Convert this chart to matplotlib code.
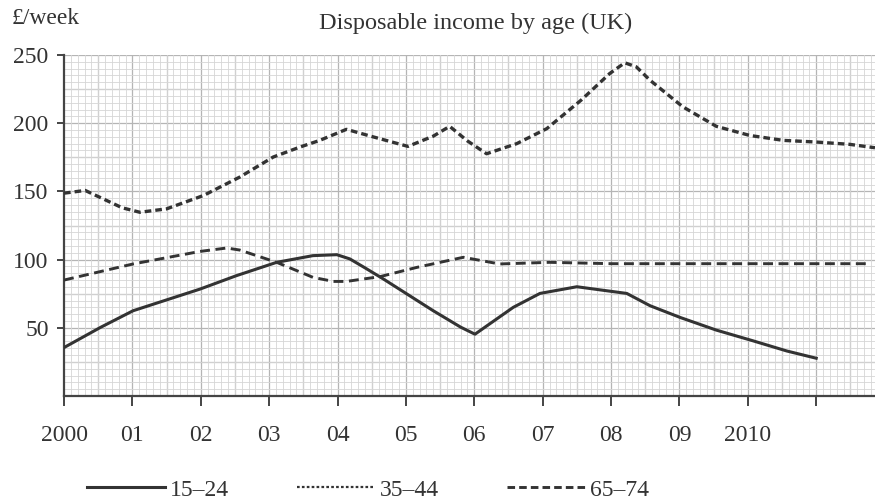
import matplotlib
matplotlib.use("Agg")
import matplotlib.pyplot as plt
from matplotlib.ticker import MultipleLocator
from matplotlib.lines import Line2D
import numpy as np

# values (year, £/week)
yrs_15 = [2000.0, 2000.53, 2001.01, 2001.99, 2002.52, 2003.11, 2003.64, 2003.99, 2004.18,
          2004.4, 2004.67, 2005.40, 2005.8, 2006.01, 2006.2, 2006.57, 2006.96, 2007.5,
          2007.93, 2008.23, 2008.57, 2009.01, 2009.54, 2010.08, 2010.57, 2011.0]
inc_15 = [35.5, 50.2, 62.5, 78.4, 88.2, 98.0, 102.9, 103.6, 100.5,
          94.0, 85.8, 62.5, 50.5, 45.3, 52.0, 65.0, 75.2, 80.1,
          77.2, 75.2, 66.2, 57.6, 48.3, 40.4, 33.0, 27.7]

yrs_35 = [2000.0, 2000.31, 2000.57, 2000.85, 2001.11, 2001.5, 2002.04, 2002.57, 2003.06,
          2003.45, 2003.74, 2004.13, 2004.52, 2005.03, 2005.4, 2005.64, 2005.9, 2006.18,
          2006.62, 2007.06, 2007.56, 2007.98, 2008.2, 2008.37, 2008.57, 2009.05, 2009.54,
          2010.03, 2010.52, 2011.0, 2011.49, 2011.86]
inc_35 = [148.7, 150.7, 144.6, 138.0, 134.7, 137.2, 147.0, 160.5, 175.2,
          182.5, 187.4, 195.5, 190.0, 183.0, 190.5, 197.7, 187.0, 177.6,
          185.0, 196.0, 216.8, 236.4, 244.3, 241.3, 231.5, 212.0, 197.7,
          191.0, 187.4, 186.2, 184.5, 182.0]

yrs_65 = [2000.0, 2001.01, 2001.99, 2002.38, 2002.57, 2003.11, 2003.64, 2003.94, 2004.13,
          2004.62, 2005.16, 2005.84, 2006.37, 2007.1, 2008.0, 2009.0, 2010.0, 2011.0, 2011.75]
inc_65 = [85.0, 96.8, 106.0, 108.5, 107.0, 98.0, 87.0, 84.0, 84.0,
          87.5, 94.3, 101.7, 96.8, 98.0, 97.0, 97.0, 97.0, 97.0, 97.0]

xticks = list(range(2000, 2012))
xlabels = ["2000", "01", "02", "03", "04", "05", "06", "07", "08", "09", "2010", ""]
yticks = [50, 100, 150, 200, 250]

ink = "#333333"
plt.rcParams["font.family"] = ["Liberation Serif", "DejaVu Serif"]

fig = plt.figure(figsize=(8.75, 5.01), dpi=100)
ax = fig.add_axes([64/875, 1 - 396/501, 1 - 64/875, (396 - 55)/501])
ax.set_xlim(2000, 2011.86)
ax.set_ylim(0, 250)

# graph paper: fine grid every 0.1 yr / 5 units, heavier every 0.5 yr / 25 units
ax.xaxis.set_minor_locator(MultipleLocator(0.1))
ax.yaxis.set_minor_locator(MultipleLocator(5))
ax.grid(which="minor", color="#d6d6d6", lw=0.6, zorder=0)
for gx in np.arange(2000.5, 2012, 0.5):
    ax.axvline(gx, color="#b5b5b5", lw=0.9, zorder=0)
for gy in np.arange(25, 251, 25):
    ax.axhline(gy, color="#b5b5b5", lw=0.9, zorder=0)

ax.plot(yrs_15, inc_15, color=ink, lw=2.2, solid_joinstyle="round", zorder=3)
ax.plot(yrs_35, inc_35, color=ink, lw=2.4, linestyle=(0, (2.0, 1.2)), zorder=3)
ax.plot(yrs_65, inc_65, color=ink, lw=2.1, linestyle=(0, (3.4, 1.9)), zorder=3)

for s in ["top", "right"]:
    ax.spines[s].set_visible(False)
for s in ["left", "bottom"]:
    ax.spines[s].set_color("#444444")
    ax.spines[s].set_linewidth(1.6)

ax.set_xticks(xticks)
ax.set_xticklabels(xlabels)
ax.set_yticks(yticks)
ax.tick_params(which="major", axis="x", direction="out", length=7, width=1.4,
               color="#444444", pad=14, labelsize=17, labelcolor=ink)
ax.tick_params(which="major", axis="y", direction="out", length=5, width=1.4,
               color="#444444", pad=6, labelsize=17, labelcolor=ink)
ax.tick_params(which="minor", length=0)

fig.text(12/875, 1 - 19/501, "£/week", fontsize=17, color=ink, va="center", ha="left")
fig.text(476/875, 1 - 23/501, "Disposable income by age (UK)", fontsize=17.5, color=ink,
         va="center", ha="center")

handles = [Line2D([], [], color=ink, lw=2.2),
           Line2D([], [], color=ink, lw=1.6, linestyle=(0, (1.2, 1.0))),
           Line2D([], [], color=ink, lw=2.1, linestyle=(0, (2.6, 1.4)))]
fig.legend(handles, ["15–24", "35–44", "65–74"], loc="center",
           bbox_to_anchor=(368/875, 1 - 490/501), ncol=3, frameon=False,
           fontsize=17, handlelength=3.3, handletextpad=0.2, columnspacing=2.9,
           labelcolor=ink)

fig.savefig("out.png", dpi=100)
